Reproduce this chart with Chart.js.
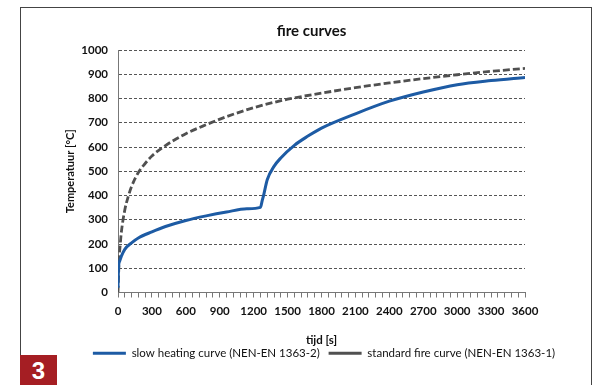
<!DOCTYPE html>
<html>
<head>
<meta charset="utf-8">
<script src="https://cdn.jsdelivr.net/npm/chart.js@4"></script>
<style>
  html, body { margin: 0; padding: 0; background: #fff; overflow: hidden; }
  #wrap { position: relative; width: 595px; height: 385px; }
  #frame { position: absolute; left: 20px; top: 7px; width: 572px; height: 400px;
           border: 1.5px solid #444; box-sizing: border-box; }
  #badge { position: absolute; left: 20px; top: 355px; width: 37px; height: 30px;
           background: #a51e23; color: #fff; font: bold 24px "Liberation Sans", Arial, sans-serif;
           text-align: center; line-height: 32px; }
  canvas { position: absolute; left: 0; top: 0; }
</style>
</head>
<body>
<div id="wrap">
  <div id="frame"></div>
  <canvas id="fireChart" width="595" height="385"></canvas>
  <div id="badge">3</div>
</div>
<script>
// tijd in seconden, temperatuur in °C
const slowTimes = [0, 5, 15, 30, 60, 120, 180, 300, 420, 600, 780, 960, 1140, 1260, 1275, 1290, 1320, 1380, 1440, 1560, 1680, 1800, 2100, 2400, 2700, 3000, 3300, 3600];
const slowTemps = [20, 105, 130, 150, 178, 205, 225, 250, 272, 297, 316, 332, 345, 351, 378, 405, 465, 520, 555, 607, 645, 678, 737, 789, 827, 857, 874, 887];

const stdTimes = [0, 10, 20, 30, 60, 90, 120, 180, 240, 300, 420, 600, 780, 960, 1200, 1500, 1800, 2100, 2400, 2700, 3000, 3300, 3600];
const stdTemps = [0, 135, 200, 250, 340, 395, 437, 495, 532, 563, 606, 655, 692, 725, 762, 797, 822, 845, 864, 882, 898, 912, 924];

const xLabelStep = 300; // labels op de x-as
const fontFam = 'Lato, "Open Sans", sans-serif';

const toPoints = (xs, ys) => xs.map((x, i) => ({ x: x, y: ys[i] }));

// legenda iets naar rechts, gecentreerd onder het plotgebied zoals in Excel
const legendShift = {
    id: 'legendShift',
    afterLayout(chart) {
        const lg = chart.legend;
        const d = 324 - (lg.left + lg.right) / 2;
        lg.left += d;
        lg.right += d;
    }
};

const ctx = document.getElementById('fireChart').getContext('2d');
new Chart(ctx, {
    type: 'line',
    data: {
        datasets: [
            {
                label: 'slow heating curve (NEN-EN 1363-2)',
                data: toPoints(slowTimes, slowTemps),
                borderColor: '#1d5ba4',
                backgroundColor: '#1d5ba4',
                borderWidth: 3,
                pointRadius: 0,
                pointStyle: 'line',
                cubicInterpolationMode: 'monotone',
                fill: false
            },
            {
                label: 'standard fire curve (NEN-EN 1363-1)',
                data: toPoints(stdTimes, stdTemps),
                borderColor: '#505050',
                backgroundColor: '#505050',
                borderWidth: 2.8,
                borderDash: [7, 3],
                pointRadius: 0,
                pointStyle: 'line',
                cubicInterpolationMode: 'monotone',
                fill: false
            }
        ]
    },
    plugins: [legendShift],
    options: {
        responsive: false,
        animation: false,
        layout: { padding: { left: 64, right: 36, top: 12, bottom: 16 } },
        plugins: {
            title: {
                display: true,
                text: 'fire curves',
                color: '#111',
                font: { family: fontFam, size: 15, weight: 'bold' },
                padding: { top: 10, bottom: 10 }
            },
            legend: {
                position: 'bottom',
                labels: {
                    color: '#111',
                    font: { family: fontFam, size: 11.5 },
                    usePointStyle: true,
                    pointStyle: 'line',
                    pointStyleWidth: 33,
                    padding: 0,
                    // wat ruimte tussen de twee legenda-items
                    generateLabels: chart => Chart.defaults.plugins.legend.labels.generateLabels(chart)
                        .map((item, i) => (i === 0 ? Object.assign(item, { text: item.text + '   ' }) : item))
                }
            },
            tooltip: { enabled: false }
        },
        scales: {
            x: {
                type: 'linear',
                min: 0,
                max: 3600,
                afterFit: s => { s.height = 55; },
                grid: { drawOnChartArea: false, color: '#777', tickLength: 5 },
                border: { color: '#777' },
                ticks: {
                    stepSize: 60,
                    autoSkip: false,
                    maxRotation: 0,
                    padding: 7,
                    color: '#111',
                    font: { family: fontFam, size: 11.5, weight: 'bold' },
                    callback: v => (v % xLabelStep === 0 ? String(v) : '')
                },
                title: {
                    display: true,
                    text: 'tijd [s]',
                    color: '#111',
                    font: { family: fontFam, size: 11.5, weight: 'bold' },
                    padding: { top: 9, bottom: 0 }
                }
            },
            y: {
                min: 0,
                max: 1000,
                afterFit: s => { s.width = 54; },
                grid: { color: '#555', drawTicks: false },
                border: { color: '#777', dash: [3, 2] },
                ticks: {
                    stepSize: 100,
                    padding: 10,
                    color: '#111',
                    font: { family: fontFam, size: 11.5, weight: 'bold' },
                    callback: v => String(v)
                },
                title: {
                    display: true,
                    text: 'Temperatuur [°C]',
                    color: '#111',
                    font: { family: fontFam, size: 11, weight: 'bold' },
                    padding: 0
                }
            },
            // lege as rechts: houdt ruimte vrij naast het plotgebied
            yRight: {
                position: 'right',
                min: 0,
                max: 1,
                afterFit: s => { s.width = 34; },
                grid: { display: false },
                border: { display: false },
                ticks: { display: false }
            }
        }
    }
});
</script>
</body>
</html>
